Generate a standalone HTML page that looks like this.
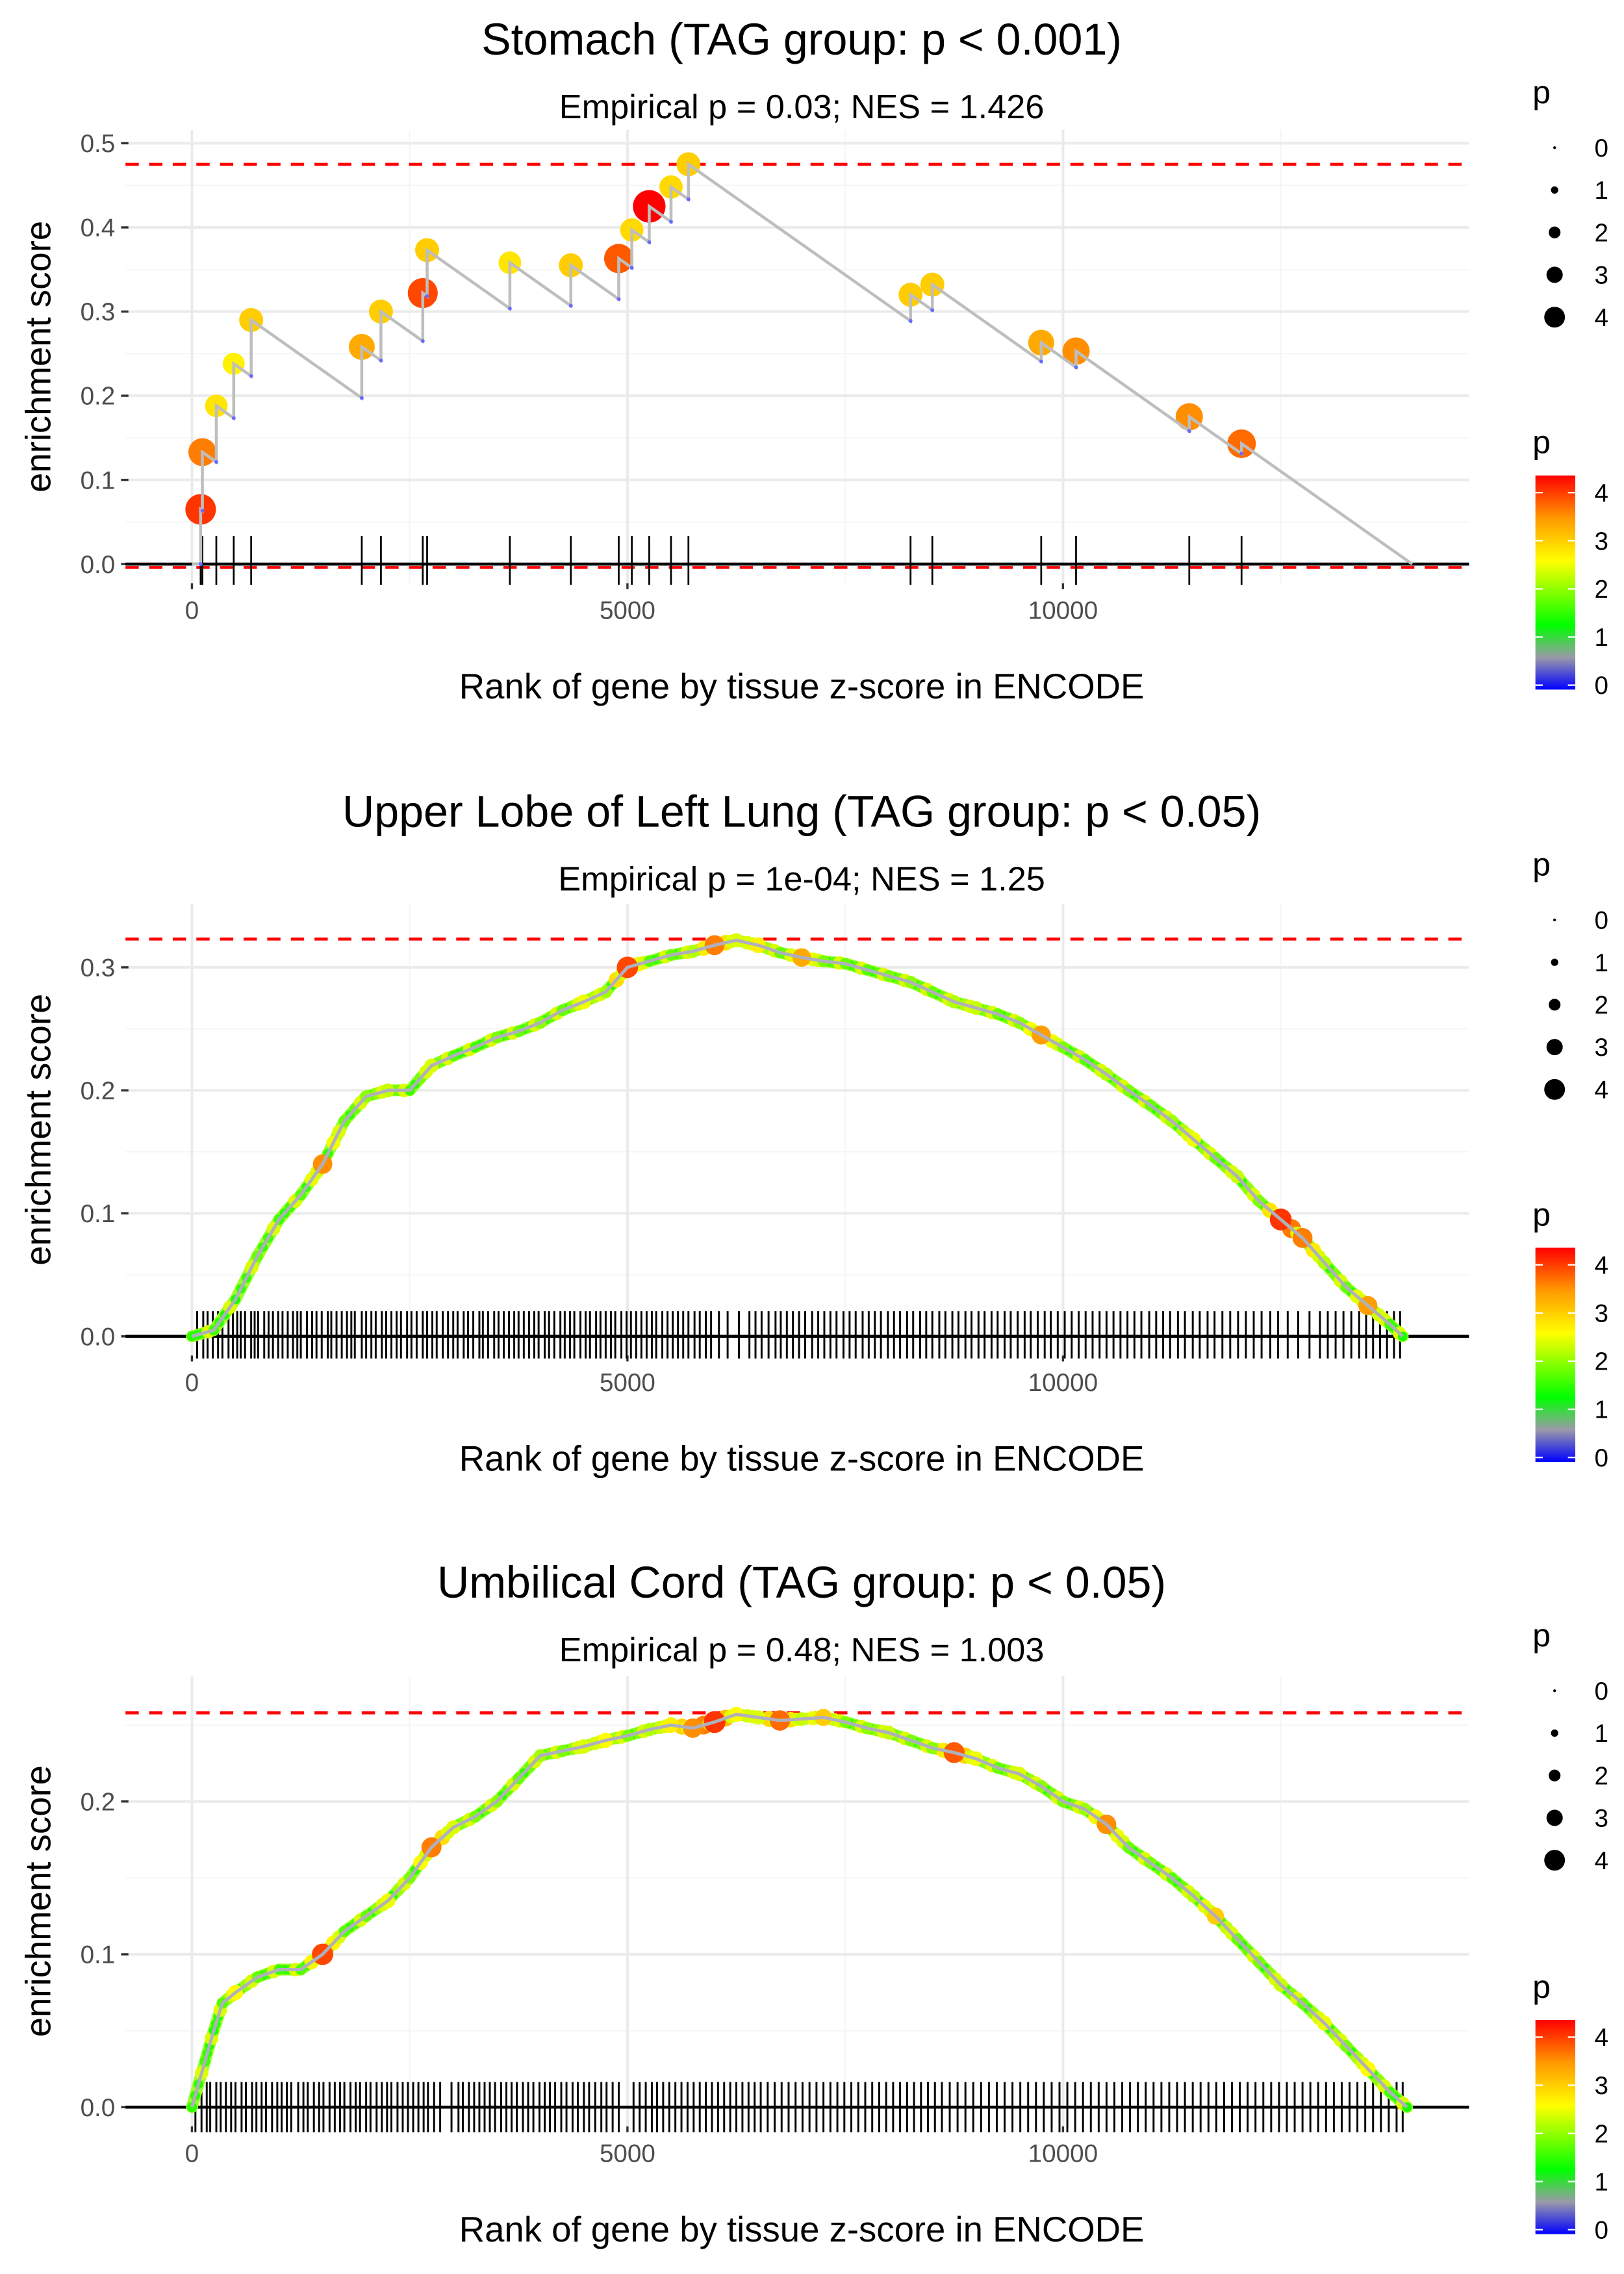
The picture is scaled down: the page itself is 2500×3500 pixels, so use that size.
<!DOCTYPE html>
<html><head><meta charset="utf-8"><style>
html,body{margin:0;padding:0;background:#fff;}
svg{display:block;font-family:"Liberation Sans",sans-serif;}
</style></head><body>
<svg id="chart" xmlns="http://www.w3.org/2000/svg" width="2500" height="3500" viewBox="0 0 1100 1540">
<defs>
<linearGradient id="pgrad" x1="0" y1="1" x2="0" y2="0">
<stop offset="0" stop-color="#0000ff"/><stop offset="0.15" stop-color="#9a9aa8"/><stop offset="0.3" stop-color="#00ff00"/><stop offset="0.6" stop-color="#ffff00"/><stop offset="0.8" stop-color="#ff9900"/><stop offset="1" stop-color="#ff0000"/>
</linearGradient>
</defs>
</svg>
<script>
// ---- Panel 1 (Stomach) data ----
const p1Ranks = [100,120,280,480,680,1950,2170,2650,2700,3650,4350,4900,5050,5250,5500,5700,8250,8500,9750,10150,11450,12050];
const p1ES = [0.065,0.133,0.188,0.238,0.29,0.258,0.3,0.322,0.373,0.358,0.355,0.363,0.397,0.425,0.448,0.475,0.32,0.332,0.263,0.253,0.175,0.143];
const p1P = [4.0,3.6,2.8,2.7,3.0,3.3,3.0,3.9,3.0,2.8,3.0,3.8,2.9,4.3,2.9,3.0,3.0,3.0,3.3,3.5,3.5,3.7];
// ---- Panel 2 (Lung) data ----
const p2Ranks = [0,250,500,750,1000,1250,1500,1750,2000,2250,2500,2750,3000,3250,3500,3750,4000,4250,4500,4750,5000,5250,5500,5750,6000,6250,6500,6750,7000,7250,7500,7750,8000,8250,8500,8750,9000,9250,9500,9750,10000,10250,10500,10750,11000,11250,11500,11750,12000,12250,12500,12750,13000,13250,13500,13750,13900];
const p2ES = [0,0.005,0.03,0.065,0.095,0.115,0.14,0.175,0.195,0.2,0.2,0.22,0.228,0.235,0.243,0.248,0.255,0.265,0.272,0.28,0.3,0.305,0.31,0.313,0.318,0.322,0.318,0.312,0.308,0.305,0.303,0.298,0.293,0.288,0.28,0.272,0.267,0.262,0.255,0.245,0.235,0.225,0.213,0.2,0.188,0.175,0.16,0.145,0.13,0.11,0.095,0.08,0.06,0.04,0.025,0.01,0];
const p2P = [1.5,1.6,1.4,1.8,1.6,1.7,3.5,1.8,2.0,2.3,1.6,2.4,1.7,1.6,1.9,1.8,2.0,1.8,2.5,2.1,3.9,1.7,1.8,2.2,3.6,2.4,2.7,1.8,3.3,1.9,1.8,1.7,1.9,2.0,1.8,2.2,2.3,1.8,2.0,3.4,1.9,1.7,2.2,1.9,1.8,2.1,2.5,1.8,2.3,1.9,4.0,3.6,2.2,1.8,3.4,1.6,1.4];
const p2Rug = [60,130,180,240,300,350,420,470,520,560,610,680,720,760,830,880,930,990,1040,1100,1160,1210,1250,1320,1380,1430,1490,1560,1600,1660,1720,1780,1830,1870,1950,2000,2060,2110,2180,2230,2290,2350,2400,2470,2520,2580,2650,2700,2760,2810,2880,2940,3000,3050,3120,3170,3230,3300,3340,3400,3470,3520,3580,3640,3700,3750,3810,3870,3930,3980,4050,4100,4160,4230,4280,4340,4390,4460,4520,4570,4640,4690,4750,4810,4860,4930,4990,5040,5100,5160,5220,5280,5330,5400,5460,5520,5580,5640,5700,5770,5830,5900,5960,6050,6150,6280,6400,6470,6540,6620,6700,6760,6830,6900,6970,7040,7120,7190,7260,7330,7400,7480,7550,7620,7700,7770,7840,7910,7990,8060,8130,8210,8280,8360,8430,8500,8580,8650,8730,8800,8880,8950,9030,9100,9180,9250,9330,9400,9480,9560,9630,9710,9790,9860,9940,10020,10100,10180,10260,10340,10420,10500,10580,10660,10740,10820,10900,10990,11070,11150,11230,11320,11400,11490,11570,11660,11740,11830,11920,12010,12100,12190,12280,12380,12470,12580,12700,12830,12950,13040,13130,13220,13310,13400,13480,13560,13640,13720,13800,13870];
// ---- Panel 3 (Umbilical cord) data ----
const p3Ranks = [0,150,250,350,500,750,1000,1250,1500,1750,2000,2250,2500,2750,3000,3250,3500,3750,4000,4250,4500,4750,5000,5250,5500,5750,6000,6250,6500,6750,7000,7250,7500,7750,8000,8250,8500,8750,9000,9250,9500,9750,10000,10250,10500,10750,11000,11250,11500,11750,12000,12250,12500,12750,13000,13250,13500,13750,13950];
const p3ES = [0,0.03,0.05,0.068,0.075,0.085,0.09,0.09,0.1,0.115,0.125,0.135,0.15,0.17,0.183,0.19,0.2,0.215,0.23,0.233,0.236,0.24,0.243,0.247,0.25,0.248,0.252,0.257,0.255,0.253,0.254,0.255,0.252,0.248,0.245,0.24,0.235,0.232,0.228,0.222,0.218,0.21,0.2,0.195,0.185,0.17,0.16,0.15,0.138,0.125,0.11,0.095,0.08,0.068,0.055,0.04,0.025,0.01,0];
const p3P = [1.5,1.6,1.4,1.7,2.6,1.8,1.6,1.7,3.9,1.7,1.8,2.5,1.9,3.6,2.4,1.9,2.0,1.8,2.1,1.9,2.4,2.6,1.9,2.2,2.7,3.5,4.0,2.6,2.4,3.7,2.3,3.0,1.9,2.0,2.3,1.9,2.0,3.8,2.5,1.8,2.4,2.0,1.9,2.1,3.5,1.8,1.9,1.7,2.2,3.0,1.8,1.9,2.3,1.8,2.5,1.9,2.6,1.6,1.4];
const p3Rug = [40,110,170,210,280,330,390,450,500,570,620,690,740,800,850,920,980,1030,1090,1140,1220,1280,1330,1400,1460,1510,1580,1640,1700,1750,1820,1880,1930,2000,2050,2120,2180,2240,2290,2360,2420,2480,2540,2600,2660,2710,2780,2850,2980,3060,3110,3180,3240,3300,3360,3420,3480,3550,3610,3670,3730,3800,3860,3920,3990,4050,4110,4170,4240,4300,4370,4430,4500,4560,4630,4700,4760,4830,4900,5070,5140,5210,5280,5340,5410,5480,5550,5620,5690,5760,5830,5900,5970,6040,6110,6180,6250,6320,6390,6460,6530,6610,6690,6770,6850,6930,7010,7090,7170,7250,7330,7410,7490,7570,7650,7730,7810,7890,7970,8050,8130,8210,8290,8370,8450,8530,8610,8700,8790,8880,8970,9060,9150,9240,9330,9420,9510,9600,9690,9780,9870,9960,10050,10140,10230,10320,10410,10500,10590,10680,10770,10860,10950,11040,11130,11220,11310,11400,11490,11580,11670,11760,11850,11940,12030,12120,12210,12300,12390,12480,12570,12660,12750,12840,12930,13020,13110,13200,13290,13380,13470,13560,13650,13740,13830,13900];
const xTicks = [0,5000,10000];
const xTickLabels = ["0","5000","10000"];
const legendP = [0,1,2,3,4];

const svg = document.getElementById('chart');
const NS = 'http://www.w3.org/2000/svg';
function mk(tag, attrs, parent){const e=document.createElementNS(NS,tag);for(const k in attrs)e.setAttribute(k,attrs[k]);(parent||svg).appendChild(e);return e;}
function txt(s, attrs, parent){const e=mk('text',attrs,parent);e.textContent=s;return e;}
const xs = r => 130 + r*0.059;
function lerp(a,b,t){return a+(b-a)*t;}
const stops=[[0,[0,0,255]],[0.15,[154,154,168]],[0.3,[0,255,0]],[0.6,[255,255,0]],[0.8,[255,153,0]],[1,[255,0,0]]];
function pcol(p){let t=Math.max(0,Math.min(1,p/4.3));for(let i=1;i<stops.length;i++){if(t<=stops[i][0]){const a=stops[i-1],b=stops[i];const u=(t-a[0])/(b[0]-a[0]);return 'rgb('+a[1].map((v,j)=>Math.round(lerp(v,b[1][j],u))).join(',')+')';}}return 'rgb(255,0,0)';}
function psize(p){return 1+1.6*p;}

function panel(cfg){
  const g=mk('g',{});
  
  
  const ys = v => cfg.y0 - v*cfg.pxPerUnit;
  const top=cfg.top, bot=cfg.bot;
  [2500,7500,12500].forEach(r=>mk('line',{x1:xs(r),x2:xs(r),y1:top,y2:bot,stroke:'#f5f5f5','stroke-width':0.8},g));
  cfg.yMinor.forEach(v=>mk('line',{x1:85,x2:995,y1:ys(v),y2:ys(v),stroke:'#f5f5f5','stroke-width':0.8},g));
  xTicks.forEach(r=>mk('line',{x1:xs(r),x2:xs(r),y1:top,y2:bot,stroke:'#ebebeb','stroke-width':1.8},g));
  cfg.yTicks.forEach((v,i)=>{
    mk('line',{x1:85,x2:995,y1:ys(v),y2:ys(v),stroke:'#ebebeb','stroke-width':1.8},g);
    mk('line',{x1:82,x2:87,y1:ys(v),y2:ys(v),stroke:'#333','stroke-width':1.5},g);
    const t=txt(cfg.yTickLabels[i],{x:78,y:ys(v)+6,'text-anchor':'end','font-size':17,fill:'#4d4d4d'},g);
    
    
  });
  xTicks.forEach((r,i)=>{
    mk('line',{x1:xs(r),x2:xs(r),y1:bot,y2:bot+4,stroke:'#333','stroke-width':1.5},g);
    const t=txt(xTickLabels[i],{x:xs(r),y:bot+24,'text-anchor':'middle','font-size':17,fill:'#4d4d4d'},g);
    
    
  });
  mk('line',{x1:85,x2:995,y1:ys(cfg.maxES),y2:ys(cfg.maxES),stroke:'#ff0000','stroke-width':2,'stroke-dasharray':'9,7'},g);
  if(cfg.minES!==null) mk('line',{x1:85,x2:995,y1:ys(cfg.minES),y2:ys(cfg.minES),stroke:'#ff0000','stroke-width':2,'stroke-dasharray':'9,7'},g);
  cfg.rug.forEach(r=>{const l=mk('line',{x1:xs(r),x2:xs(r),y1:cfg.y0+cfg.rugTop,y2:cfg.y0+cfg.rugBot,stroke:'#000','stroke-width':cfg.rugW},g);
    
    });
  mk('line',{x1:85,x2:995,y1:cfg.y0,y2:cfg.y0,stroke:'#000','stroke-width':2},g);
  cfg.drawCurve(g, ys);
  const tt=txt(cfg.title,{x:543,y:cfg.titleY,'text-anchor':'middle','font-size':30,fill:'#000'},g);
  
  
  const st=txt(cfg.sub,{x:543,y:cfg.titleY+43,'text-anchor':'middle','font-size':23,fill:'#000'},g);
  
  
  const xt=txt('Rank of gene by tissue z-score in ENCODE',{x:543,y:cfg.bot+78,'text-anchor':'middle','font-size':24,fill:'#000'},g);
  
  
  const ymid=(top+cfg.bot)/2;
  const yt=txt('enrichment score',{x:34,y:ymid,'text-anchor':'middle','font-size':24,fill:'#000',transform:'rotate(-90 34 '+ymid+')'},g);
  
  
  const lg=mk('g',{},g);
  
  
  txt('p',{x:1038,y:cfg.legY+8,'font-size':22,fill:'#000'},lg);
  legendP.forEach((p,i)=>{const yy=cfg.legY+38+i*28.7;
    const c=mk('circle',{cx:1053,cy:yy,r:psize(p)*0.95,fill:'#000'},lg);
    
    
    txt(String(p),{x:1080,y:yy+6,'font-size':17,fill:'#000'},lg);});
  const cg=mk('g',{},g);
  
  
  txt('p',{x:1038,y:cfg.cbTop-15,'font-size':22,fill:'#000'},cg);
  mk('rect',{x:1040,y:cfg.cbTop,width:27,height:145,fill:'url(#pgrad)'},cg);
  legendP.forEach(p=>{const yy=cfg.cbTop+145-3-p*32.6;
    mk('line',{x1:1040,x2:1045,y1:yy,y2:yy,stroke:'#fff','stroke-width':1},cg);
    mk('line',{x1:1062,x2:1067,y1:yy,y2:yy,stroke:'#fff','stroke-width':1},cg);
    txt(String(p),{x:1080,y:yy+6,'font-size':17,fill:'#000'},cg);});
}

panel({name:'stomach',y0:382,pxPerUnit:570,top:88,bot:395,yTicks:[0,0.1,0.2,0.3,0.4,0.5],yTickLabels:["0.0","0.1","0.2","0.3","0.4","0.5"],yMinor:[0.05,0.15,0.25,0.35,0.45],
  maxES:0.475,minES:-0.004,rug:p1Ranks,rugTop:-19,rugBot:14,rugW:1.2,title:'Stomach (TAG group: p < 0.001)',sub:'Empirical p = 0.03; NES = 1.426',titleY:37,legY:62,cbTop:322,
  drawCurve:(g,ys)=>{
    const slope=7.3e-5;let pr=0,pe=0;let d='M'+xs(0)+' '+ys(0);const valleys=[];
    p1Ranks.forEach((r,i)=>{const pre=Math.max(0,pe-slope*(r-pr));d+=' L'+xs(r)+' '+ys(pre)+' L'+xs(r)+' '+ys(p1ES[i]);valleys.push([r,pre]);pr=r;pe=p1ES[i];});
    const endR=pr+pe/slope;d+=' L'+xs(endR)+' '+ys(0);
    p1Ranks.forEach((r,i)=>{const c=mk('circle',{cx:xs(r),cy:ys(p1ES[i]),r:psize(p1P[i])*1.4,fill:pcol(p1P[i])},g);
      
      });
    const path=mk('path',{d:d,fill:'none',stroke:'#bebebe','stroke-width':2},g);
    
    
    valleys.forEach(v=>mk('circle',{cx:xs(v[0]),cy:ys(v[1]),r:1.3,fill:'#6a6aff'},g));
  }});

function denseCurve(ranks, es, ps){
  return (g,ys)=>{
    const pts=ranks.map((r,i)=>xs(r)+','+ys(es[i])).join(' ');
    mk('polyline',{points:pts,fill:'none',stroke:'#9cff2a','stroke-width':8,'stroke-linejoin':'round','stroke-linecap':'round'},g);
    ranks.forEach((r,i)=>{if(i<ranks.length-1){const x1=xs(r),x2=xs(ranks[i+1]);const y1=ys(es[i]),y2=ys(es[i+1]);
      [0.25,0.5,0.75].forEach((t,k)=>{const pp=k===1?(ps[i]+ps[i+1])/2*0.95:(k===0?1.5:2.4);
        mk('circle',{cx:lerp(x1,x2,t),cy:lerp(y1,y2,t),r:psize(pp)*0.95,fill:pcol(pp)},g);});}});
    ranks.forEach((r,i)=>{const c=mk('circle',{cx:xs(r),cy:ys(es[i]),r:psize(ps[i])*1.0,fill:pcol(ps[i])},g);
      
      });
    const pl=mk('polyline',{points:pts,fill:'none',stroke:'#b0b0bc','stroke-width':2.2,'stroke-linejoin':'round'},g);
    
    
  };
}
panel({name:'lung',y0:905,pxPerUnit:833,top:612,bot:918,yTicks:[0,0.1,0.2,0.3],yTickLabels:["0.0","0.1","0.2","0.3"],yMinor:[0.05,0.15,0.25],
  maxES:0.323,minES:null,rug:p2Rug,rugTop:-17,rugBot:15,rugW:1.3,title:'Upper Lobe of Left Lung (TAG group: p < 0.05)',sub:'Empirical p = 1e-04; NES = 1.25',titleY:560,legY:585,cbTop:845,
  drawCurve:denseCurve(p2Ranks,p2ES,p2P)});
panel({name:'umbilical-cord',y0:1427,pxPerUnit:1035,top:1135,bot:1440,yTicks:[0,0.1,0.2],yTickLabels:["0.0","0.1","0.2"],yMinor:[0.05,0.15,0.25],
  maxES:0.258,minES:null,rug:p3Rug,rugTop:-17,rugBot:17,rugW:1.3,title:'Umbilical Cord (TAG group: p < 0.05)',sub:'Empirical p = 0.48; NES = 1.003',titleY:1082,legY:1107,cbTop:1368,
  drawCurve:denseCurve(p3Ranks,p3ES,p3P)});
</script>
</body></html>
